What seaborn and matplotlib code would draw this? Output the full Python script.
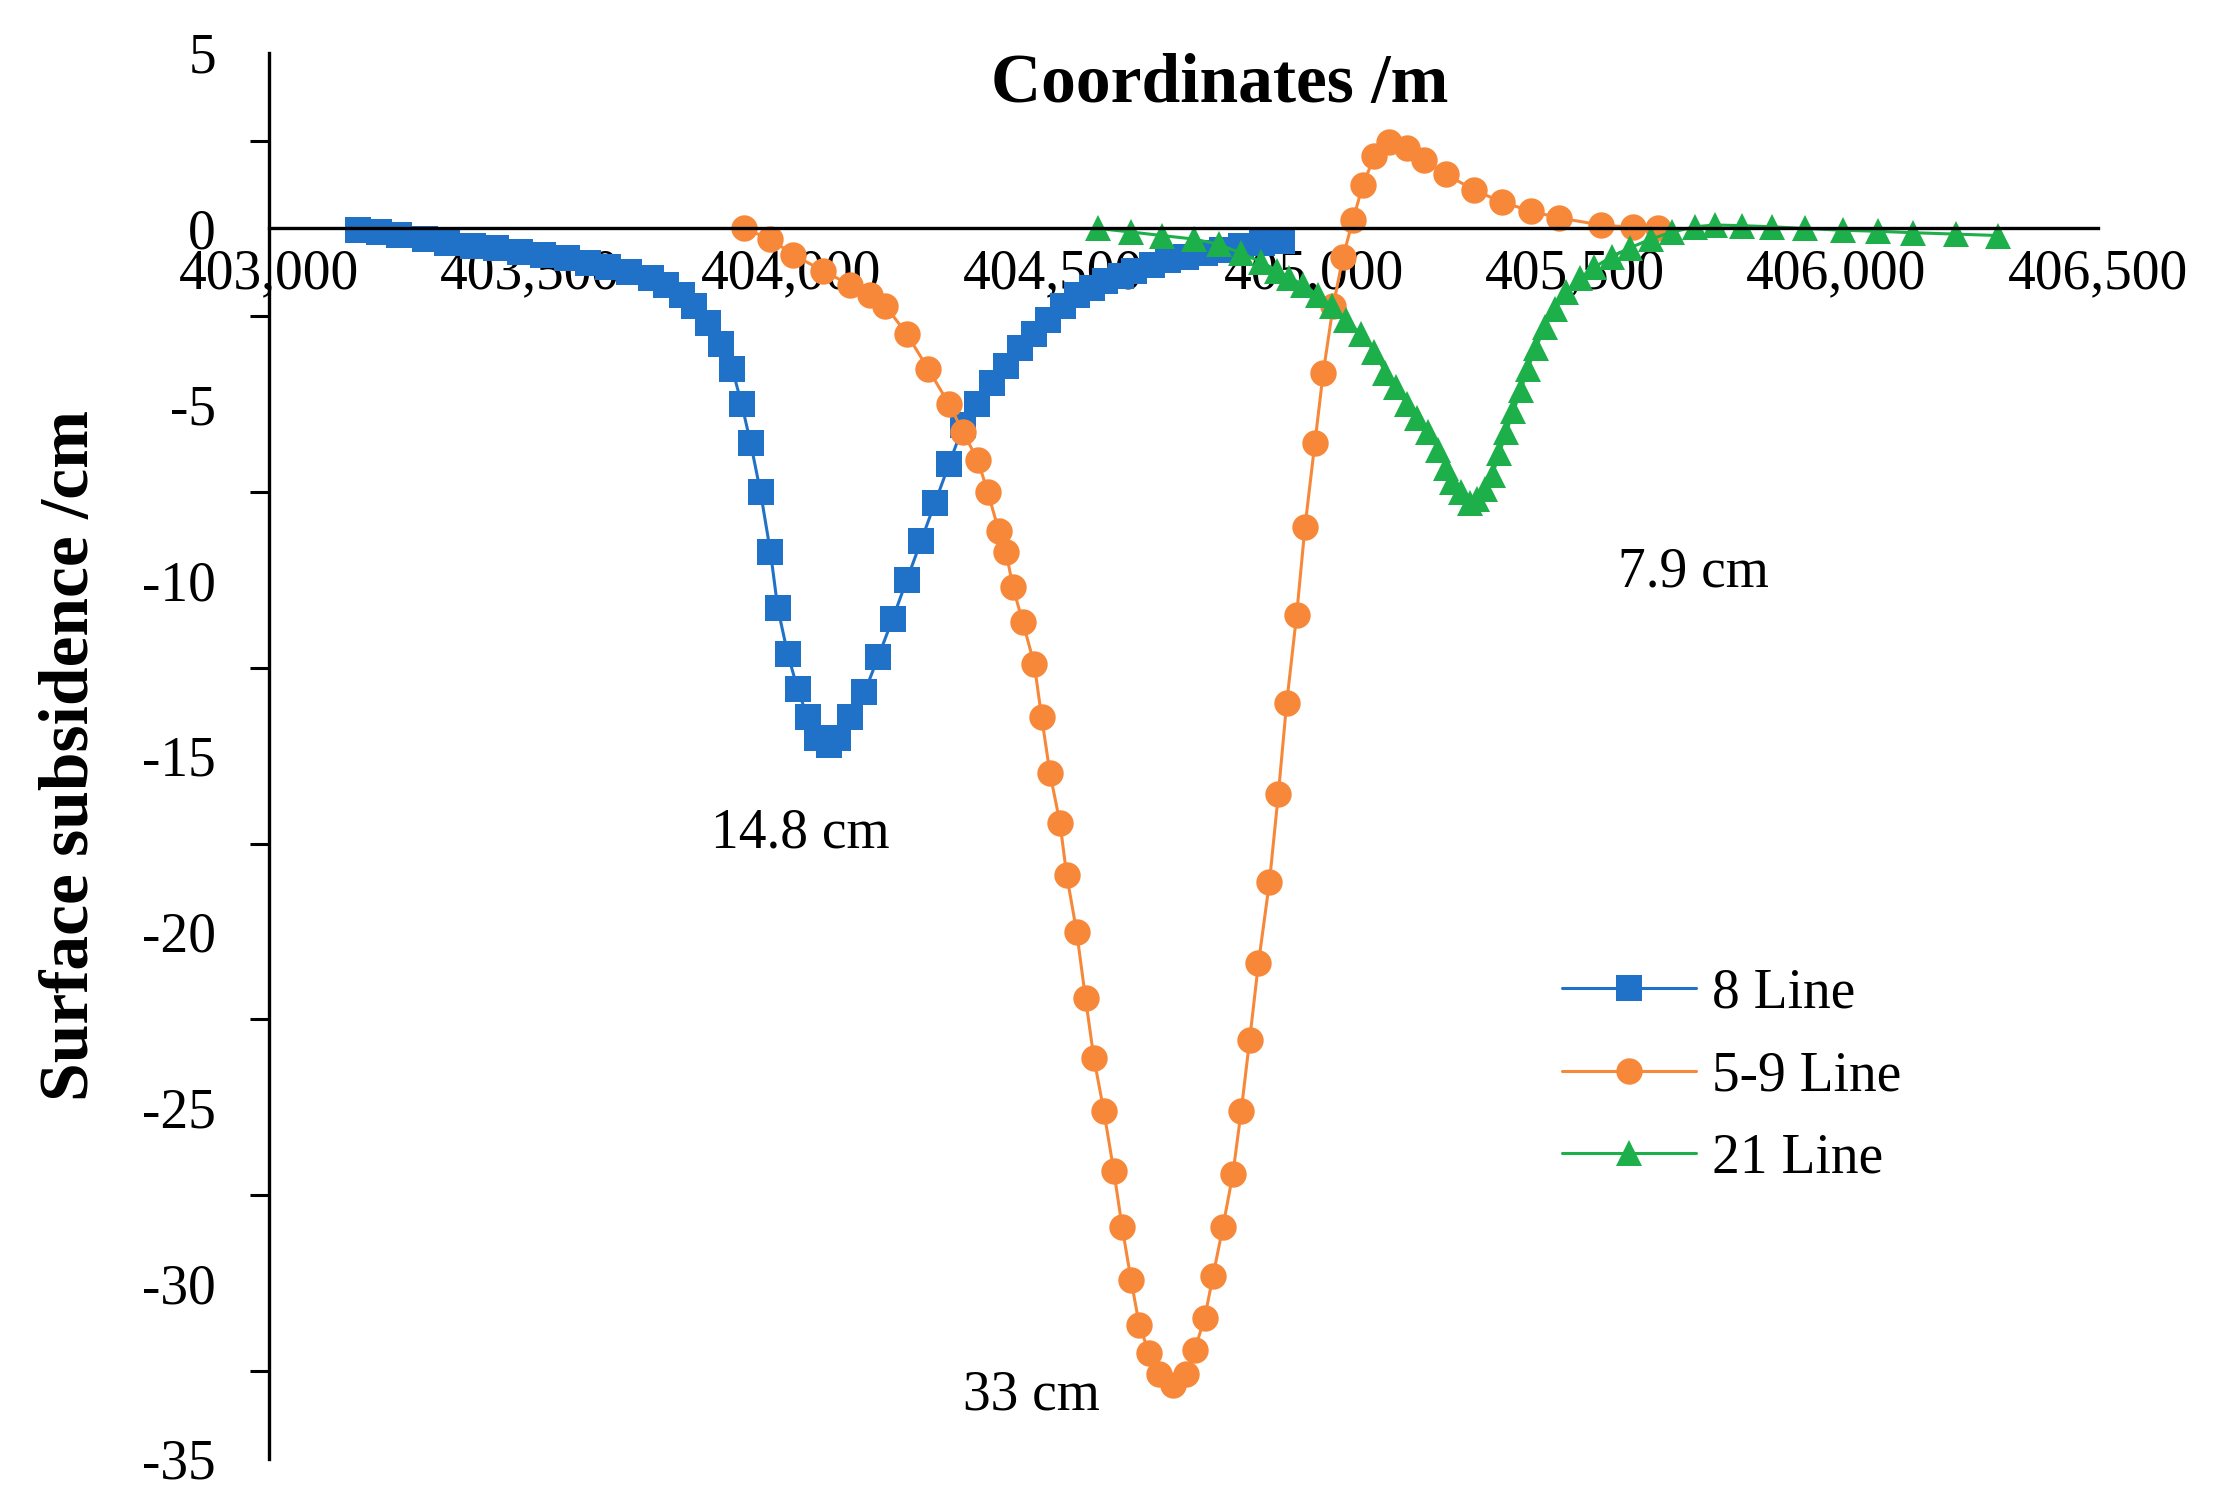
import numpy as np
import pandas as pd
import seaborn as sns
import matplotlib
matplotlib.use("Agg")
import matplotlib.pyplot as plt
from matplotlib.ticker import FuncFormatter, MultipleLocator

x8 = [403171, 403210, 403250, 403298, 403340, 403390, 403434, 403480, 403525, 403570, 403610, 403650, 403690,
      403732, 403760, 403790, 403814, 403840, 403865, 403887, 403905, 403922, 403941, 403960, 403974, 403993,
      404012, 404031, 404050, 404072, 404090, 404112, 404140, 404166, 404194, 404221, 404248, 404275, 404302,
      404329, 404356, 404384, 404411, 404438, 404465, 404492, 404519, 404546, 404575, 404600, 404630, 404655,
      404690, 404720, 404755, 404791, 404825, 404860, 404900, 404940]
y8 = [-0.05, -0.1, -0.18, -0.3, -0.4, -0.5, -0.56, -0.66, -0.75, -0.85, -0.98, -1.1, -1.25,
      -1.4, -1.6, -1.9, -2.2, -2.7, -3.3, -4.0, -5.0, -6.1, -7.5, -9.2, -10.8, -12.1,
      -13.1, -13.9, -14.5, -14.7, -14.5, -13.9, -13.2, -12.2, -11.1, -10.0, -8.9, -7.8, -6.7,
      -5.6, -5.0, -4.4, -3.9, -3.4, -3.0, -2.6, -2.2, -1.9, -1.7, -1.5, -1.35, -1.2,
      -1.05, -0.9, -0.8, -0.7, -0.6, -0.5, -0.42, -0.35]

x59 = [403909, 403960, 404004, 404060, 404112, 404150, 404180, 404221, 404262, 404302, 404329, 404357, 404376,
       404397, 404411, 404424, 404443, 404465, 404479, 404495, 404514, 404527, 404546, 404563, 404579, 404598,
       404617, 404633, 404650, 404666, 404685, 404704, 404731, 404755, 404772, 404791, 404807, 404826, 404845,
       404861, 404877, 404894, 404915, 404932, 404948, 404967, 404983, 405002, 405018, 405037, 405056, 405075,
       405094, 405116, 405143, 405178, 405211, 405252, 405306, 405360, 405415, 405469, 405550, 405610, 405659]
y59 = [0.0, -0.3, -0.75, -1.2, -1.6, -1.9, -2.2, -3.0, -4.0, -5.0, -5.8, -6.6, -7.5,
       -8.6, -9.2, -10.2, -11.2, -12.4, -13.9, -15.5, -16.9, -18.4, -20.0, -21.9, -23.6, -25.1,
       -26.8, -28.4, -29.9, -31.2, -32.0, -32.6, -32.9, -32.6, -31.9, -31.0, -29.8, -28.4, -26.9,
       -25.1, -23.1, -20.9, -18.6, -16.1, -13.5, -11.0, -8.5, -6.1, -4.1, -2.2, -0.8, 0.25,
       1.25, 2.05, 2.45, 2.3, 1.95, 1.55, 1.1, 0.75, 0.5, 0.3, 0.1, 0.03, 0.0]

x21 = [404587, 404650, 404709, 404770, 404818, 404860, 404899, 404930, 404953, 404980, 405008, 405035, 405062,
       405090, 405116, 405137, 405157, 405178, 405198, 405218, 405238, 405252, 405265, 405282, 405298, 405313,
       405328, 405342, 405355, 405368, 405382, 405396, 405409, 405425, 405442, 405462, 405483, 405510, 405537,
       405570, 405605, 405645, 405686, 405730, 405767, 405820, 405876, 405940, 406012, 406080, 406147, 406230,
       406310]
y21 = [0.0, -0.1, -0.2, -0.3, -0.45, -0.7, -0.95, -1.2, -1.4, -1.6, -1.9, -2.2, -2.6,
       -3.0, -3.5, -4.1, -4.5, -5.0, -5.4, -5.8, -6.3, -6.8, -7.2, -7.5, -7.8, -7.7,
       -7.4, -7.0, -6.4, -5.8, -5.2, -4.6, -4.0, -3.4, -2.8, -2.3, -1.8, -1.4, -1.1,
       -0.8, -0.55, -0.3, -0.1, 0.05, 0.1, 0.08, 0.05, 0.0, -0.05, -0.08, -0.12, -0.16,
       -0.2]

names = ["8 Line", "5-9 Line", "21 Line"]
colors = ["#1F72C8", "#F7883A", "#1DAF4A"]
markers = ["s", "o", "^"]

sns.set_theme(style="white")
plt.rcParams['font.family'] = ['Liberation Serif', 'DejaVu Serif']
plt.rcParams['axes.unicode_minus'] = False
plt.rcParams['text.color'] = 'black'

fig = plt.figure(figsize=(22.22, 15.07), dpi=100)
ax = fig.add_axes([0.121, 0.032, 0.823, 0.933])

for xs, ys, n, c, m in zip([x8, x59, x21], [y8, y59, y21], names, colors, markers):
    df = pd.DataFrame({"x": xs, "y": ys})
    sns.lineplot(data=df, x="x", y="y", ax=ax, color=c, marker=m, markersize=19,
                 markeredgewidth=0, linewidth=2.2, label=n, sort=False)

ax.set_xlim(403000, 406500)
ax.set_ylim(-35, 5)
ax.spines['bottom'].set_position(('data', 0))
for s in ['top', 'right']:
    ax.spines[s].set_visible(False)
for s in ['left', 'bottom']:
    ax.spines[s].set_color('black')
    ax.spines[s].set_linewidth(2.4)
ax.xaxis.set_major_locator(MultipleLocator(500))
ax.yaxis.set_major_locator(MultipleLocator(5))
ax.yaxis.set_minor_locator(MultipleLocator(2.5))
ax.xaxis.set_major_formatter(FuncFormatter(lambda v, p: f"{int(v):,}"))
ax.tick_params(axis='x', labelsize=40, direction='out', length=0, width=2, pad=14, labelcolor='black')
ax.tick_params(axis='y', which='major', labelsize=40, direction='out', length=14, width=2.2, pad=24,
               colors='black')
ax.tick_params(axis='y', which='minor', left=True, direction='out', length=14, width=2.2, colors='black')
ax.set_xlabel("")
ax.set_ylabel("Surface subsidence /cm", fontsize=50, fontweight='bold', labelpad=28, color='black')
ax.text(0.52, 0.977, "Coordinates /m", transform=ax.transAxes, ha='center', va='center',
        fontsize=50, fontweight='bold', color='black')

ax.text(404017, -17.2, "14.8 cm", ha='center', va='center', fontsize=40, color='black')
ax.text(404460, -33.2, "33 cm", ha='center', va='center', fontsize=40, color='black')
ax.text(405727, -9.8, "7.9 cm", ha='center', va='center', fontsize=40, color='black')

leg = ax.legend(loc='upper left', bbox_to_anchor=(0.68, 0.385), frameon=False, fontsize=40,
                handlelength=2.4, labelspacing=0.55, handletextpad=0.3)
for t in leg.get_texts():
    t.set_color('black')

fig.savefig("out.png", dpi=100)
